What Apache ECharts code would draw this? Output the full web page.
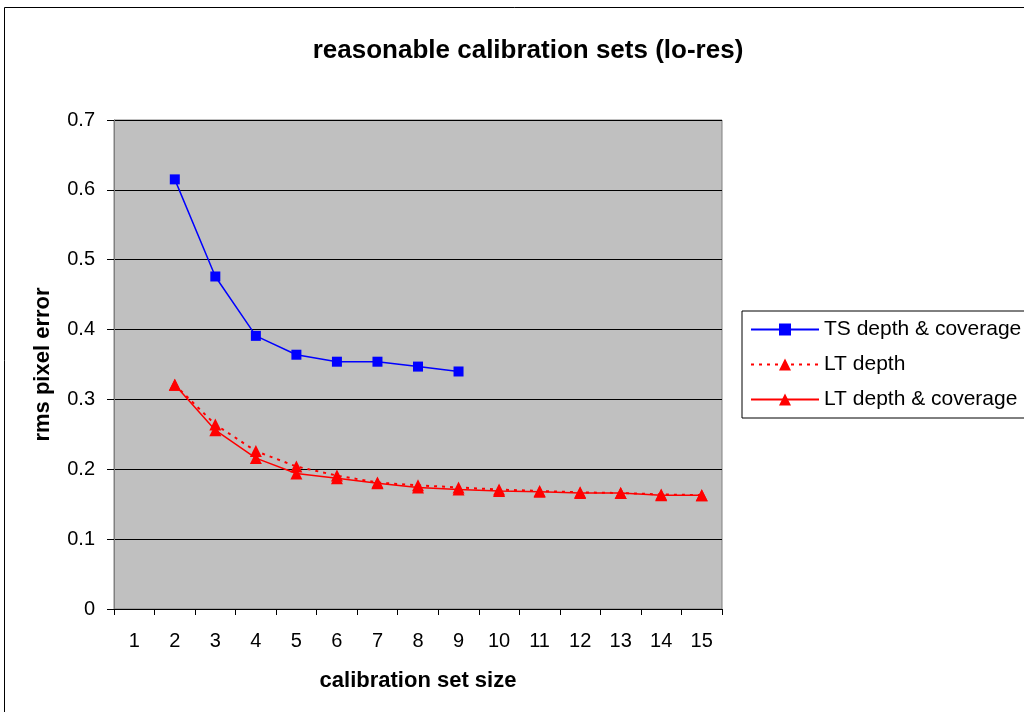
<!DOCTYPE html>
<html><head><meta charset="utf-8">
<script src="https://cdn.jsdelivr.net/npm/echarts@6/dist/echarts.min.js"></script>
<style>html,body{margin:0;padding:0;background:#fff}#c{width:1024px;height:712px}</style>
</head><body><div id="c"></div>
<script>
const categories = ['1','2','3','4','5','6','7','8','9','10','11','12','13','14','15'];
const tsDepthCoverage = [null,0.615,0.476,0.391,0.364,0.354,0.354,0.347,0.340,null,null,null,null,null,null];
const ltDepth = [null,0.321,0.264,0.226,0.204,0.191,0.181,0.177,0.174,0.171,0.169,0.167,0.166,0.164,0.163];
const ltDepthCoverage = [null,0.321,0.256,0.216,0.194,0.187,0.180,0.174,0.171,0.169,0.168,0.166,0.166,0.163,0.163];
const seriesNames = ['TS depth & coverage','LT depth','LT depth & coverage'];

const font = 'Liberation Sans, Arial, sans-serif';
const chart = echarts.init(document.getElementById('c'));
chart.setOption({
  animation: false,
  backgroundColor: '#fff',
  textStyle: {fontFamily: font},
  graphic: [{type:'rect', shape:{x:4.5,y:7.5,width:1040,height:720}, style:{fill:'none',stroke:'#000',lineWidth:1}, silent:true}],
  title: {
    text: 'reasonable calibration sets (lo-res)',
    left: 523, top: 33, textAlign: 'center',
    textStyle: {fontFamily: font, fontSize: 26, fontWeight: 'bold', color: '#000'}
  },
  legend: {
    orient: 'vertical', left: 742, top: 311,
    padding: [8, 40, 8, 8], itemGap: 14, itemWidth: 68, itemHeight: 15,
    borderColor: '#000', borderWidth: 1,
    textStyle: {fontFamily: font, fontSize: 21, color: '#000', padding:[0,0,0,0]},
    data: seriesNames
  },
  grid: {left: 114, top: 120, width: 608, height: 489, show: true,
         backgroundColor: '#c0c0c0', borderColor: '#808080', borderWidth: 1},
  xAxis: {
    type: 'category', data: categories, boundaryGap: true,
    name: 'calibration set size', nameLocation: 'middle', nameGap: 61,
    nameTextStyle: {fontFamily: font, fontSize: 22, fontWeight: 'bold', color: '#000'},
    axisLine: {lineStyle: {color: '#000', width: 1}},
    axisTick: {show: true, alignWithLabel: false, length: 6, lineStyle: {color: '#000'}},
    axisLabel: {fontFamily: font, fontSize: 20, color: '#000', margin: 22},
    splitLine: {show: false}
  },
  yAxis: {
    type: 'value', min: 0, max: 0.7, interval: 0.1,
    name: 'rms pixel error', nameLocation: 'middle', nameGap: 60, nameRotate: 90,
    nameTextStyle: {fontFamily: font, fontSize: 22, fontWeight: 'bold', color: '#000'},
    axisLine: {show: true, lineStyle: {color: '#808080'}},
    axisTick: {show: true, length: 7, lineStyle: {color: '#000'}},
    axisLabel: {fontFamily: font, fontSize: 20, color: '#000', margin: 19,
      formatter: v => (Math.round(v*10)/10).toString()},
    splitLine: {show: true, lineStyle: {color: '#000', width: 1}}
  },
  series: [
    {name: seriesNames[0], type: 'line', data: tsDepthCoverage, connectNulls: false,
     symbol: 'rect', symbolSize: 10, color: '#0000ff',
     lineStyle: {color: '#0000ff', width: 1.5}, itemStyle: {color: '#0000ff'}},
    {name: seriesNames[1], type: 'line', data: ltDepth,
     symbol: 'triangle', symbolSize: 12, color: '#ff0000',
     lineStyle: {color: '#ff0000', width: 2, type: [3, 5]}, itemStyle: {color: '#ff0000'}},
    {name: seriesNames[2], type: 'line', data: ltDepthCoverage,
     symbol: 'triangle', symbolSize: 12, color: '#ff0000',
     lineStyle: {color: '#ff0000', width: 1.5}, itemStyle: {color: '#ff0000'}}
  ]
});
</script></body></html>
